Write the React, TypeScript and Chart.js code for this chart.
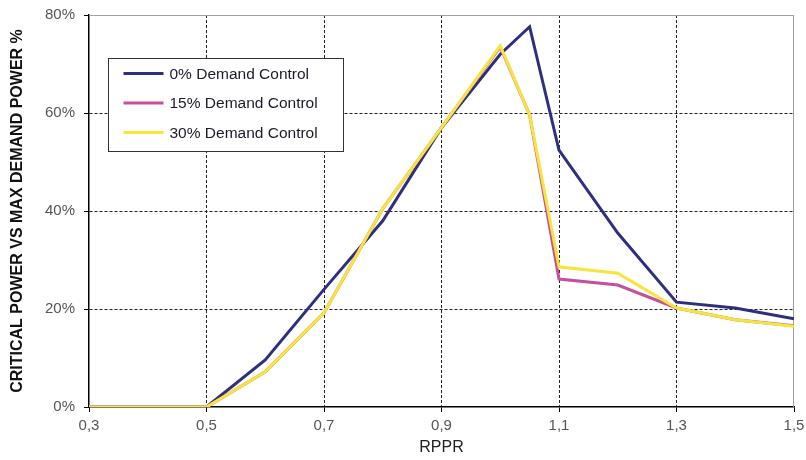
import React, { useEffect, useRef } from "react";
import { Chart, registerables } from "chart.js";

Chart.register(...registerables);

const xValues = [0.3, 0.4, 0.5, 0.6, 0.7, 0.8, 0.9, 1.0, 1.05, 1.1, 1.2, 1.3, 1.4, 1.5];
const dc0 = [0, 0, 0, 9.6, 24, 38, 57, 72, 77.6, 52.4, 35.5, 21.4, 20.2, 18];
const dc15 = [0, 0, 0, 7.2, 19.2, 40.5, 57, 73.5, 59.6, 26.1, 24.9, 20.2, 17.8, 16.6];
const dc30 = [0, 0, 0, 7.2, 19.2, 40.5, 57, 73.7, 59.6, 28.6, 27.3, 20.2, 17.8, 16.5];
const seriesNames = ["0% Demand Control", "15% Demand Control", "30% Demand Control"];
const seriesColors = ["#2e2f7f", "#c4509f", "#f7e53c"];
const xTicks = [0.3, 0.5, 0.7, 0.9, 1.1, 1.3, 1.5];
const yTicks = [0, 20, 40, 60, 80];
const xTitle = "RPPR";
const yTitle = "CRITICAL POWER VS MAX DEMAND POWER %";

const FONT = "'Liberation Sans', Arial, sans-serif";

export default function App() {
  const ref = useRef<HTMLCanvasElement | null>(null);

  useEffect(() => {
    document.body.style.margin = "0";
    const canvas = ref.current;
    if (!canvas) return;
    const series = [dc0, dc15, dc30];

    const framePlugin = {
      id: "frame",
      beforeDatasetsDraw(chart: any) {
        const { ctx, chartArea } = chart;
        ctx.save();
        ctx.strokeStyle = "#a0a0a0";
        ctx.lineWidth = 1;
        ctx.beginPath();
        ctx.moveTo(chartArea.left, chartArea.top + 0.5);
        ctx.lineTo(chartArea.right, chartArea.top + 0.5);
        ctx.moveTo(chartArea.right - 0.5, chartArea.top);
        ctx.lineTo(chartArea.right - 0.5, chartArea.bottom);
        ctx.stroke();
        ctx.restore();
      },
      afterDatasetsDraw(chart: any) {
        const { ctx, chartArea } = chart;
        const bx = chartArea.left + 19.5;
        const by = chartArea.top + 43.5;
        const bw = 235;
        const bh = 93;
        ctx.save();
        ctx.fillStyle = "#ffffff";
        ctx.fillRect(bx, by, bw, bh);
        ctx.strokeStyle = "#333333";
        ctx.lineWidth = 1;
        ctx.strokeRect(bx, by, bw, bh);
        ctx.font = `15.5px ${FONT}`;
        ctx.textBaseline = "middle";
        ctx.textAlign = "left";
        seriesNames.forEach((name, i) => {
          const y = by + 15 + i * 29.5;
          ctx.strokeStyle = seriesColors[i];
          ctx.lineWidth = 3;
          ctx.beginPath();
          ctx.moveTo(bx + 15, y);
          ctx.lineTo(bx + 55, y);
          ctx.stroke();
          ctx.fillStyle = "#1a1a2a";
          ctx.fillText(name, bx + 61, y + 1);
        });
        ctx.restore();
      },
    };

    const chart = new Chart(canvas, {
      type: "line",
      data: {
        datasets: series.map((s, i) => ({
          label: seriesNames[i],
          data: s.map((v, j) => ({ x: xValues[j], y: v })),
          borderColor: seriesColors[i],
          backgroundColor: seriesColors[i],
          borderWidth: 3,
          pointRadius: 0,
          tension: 0,
          order: 2 - i,
        })),
      },
      options: {
        responsive: false,
        animation: false,
        layout: { padding: { left: 0, right: 12, top: 15, bottom: 0 } },
        plugins: {
          legend: { display: false },
          tooltip: { enabled: false },
        },
        scales: {
          x: {
            type: "linear",
            min: 0.3,
            max: 1.5,
            afterBuildTicks: (scale: any) => {
              scale.ticks = xTicks.map((v) => ({ value: v }));
            },
            afterFit: (scale: any) => {
              scale.height = 53;
              scale.paddingLeft = 0;
              scale.paddingRight = 0;
            },
            ticks: {
              autoSkip: false,
              maxRotation: 0,
              color: "#555555",
              font: { family: FONT, size: 15 },
              padding: 5,
              callback: (v: any) => Number(v).toFixed(1).replace(".", ","),
            },
            grid: {
              color: (ctx: any) =>
                ctx.tick && (ctx.tick.value === 1.5 || ctx.tick.value === 0.3) ? "rgba(0,0,0,0)" : "#222222",
              lineWidth: 1,
              drawTicks: true,
              tickLength: 5,
              tickColor: "#000000",
            },
            border: { display: true, color: "#000000", width: 1.5, dash: [3, 2] },
            title: {
              display: true,
              text: xTitle,
              color: "#222222",
              font: { family: FONT, size: 16 },
              padding: { top: 0, bottom: 3 },
            },
          },
          y: {
            type: "linear",
            min: 0,
            max: 80,
            afterBuildTicks: (scale: any) => {
              scale.ticks = yTicks.map((v) => ({ value: v }));
            },
            afterFit: (scale: any) => {
              scale.width = 89;
              scale.paddingTop = 0;
              scale.paddingBottom = 0;
            },
            ticks: {
              color: "#555555",
              font: { family: FONT, size: 15 },
              padding: 9,
              callback: (v: any) => `${v}%`,
            },
            grid: {
              color: (ctx: any) =>
                ctx.tick && (ctx.tick.value === 80 || ctx.tick.value === 0) ? "rgba(0,0,0,0)" : "#222222",
              lineWidth: 1,
              drawTicks: true,
              tickLength: 5,
              tickColor: "#000000",
            },
            border: { display: true, color: "#000000", width: 1.5, dash: [3, 2] },
            title: {
              display: true,
              text: yTitle,
              color: "#111111",
              font: { family: FONT, size: 16, weight: "bold" },
              padding: { top: 8, bottom: 0 },
            },
          },
        },
      },
      plugins: [framePlugin],
    } as any);

    return () => chart.destroy();
  }, []);

  return (
    <div style={{ width: 806, height: 460 }}>
      <canvas ref={ref} width={806} height={460} style={{ display: "block" }} />
    </div>
  );
}
